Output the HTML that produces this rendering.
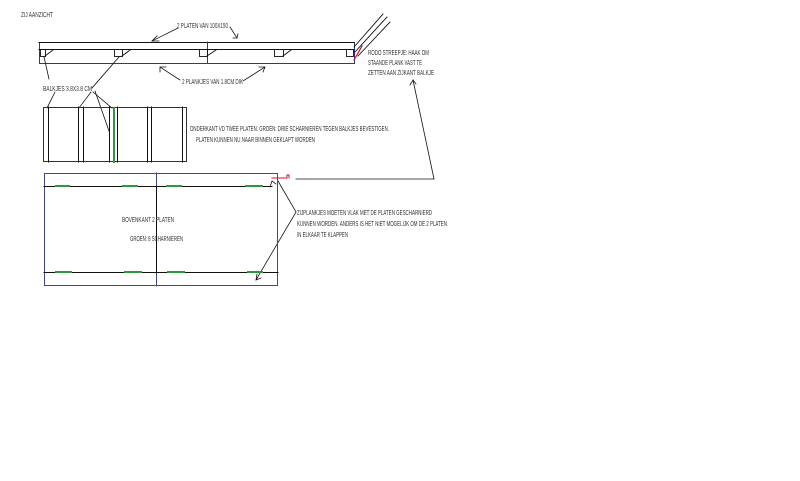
<!DOCTYPE html>
<html><head><meta charset="utf-8"><style>
html,body{margin:0;padding:0;background:#fff;width:800px;height:481px;overflow:hidden}
svg text{font-family:"Liberation Sans",sans-serif;font-size:7px;fill:#333}
</style></head><body>
<svg width="800" height="481" viewBox="0 0 800 481" xmlns="http://www.w3.org/2000/svg">
<g fill="none" stroke-linecap="square">
<rect x="39.5" y="42.5" width="315" height="21" stroke="#2a3a8a" stroke-width="1"/>
<line x1="39" y1="42.5" x2="354" y2="42.5" stroke="#111" stroke-width="1"/>
<line x1="39" y1="49.5" x2="354" y2="49.5" stroke="#111" stroke-width="1"/>
<line x1="207.5" y1="42" x2="207.5" y2="63" stroke="#2a3a8a"/>
<g stroke="#111" stroke-width="0.9">
<rect x="40.5" y="49.5" width="5" height="7"/><line x1="45" y1="56" x2="53" y2="50"/>
<rect x="114.5" y="49.5" width="8" height="7"/><line x1="122" y1="56" x2="130" y2="50"/>
<rect x="199.5" y="49.5" width="8" height="7"/><line x1="207" y1="56" x2="216" y2="50"/>
<rect x="274.5" y="49.5" width="9" height="7"/><line x1="283" y1="56" x2="291" y2="50"/>
<rect x="346.5" y="49.5" width="7" height="7"/>
<line x1="354" y1="47" x2="383" y2="14"/><line x1="354" y1="53" x2="387" y2="17"/><line x1="358" y1="56" x2="390" y2="22"/>
</g>
<line x1="354" y1="60" x2="362" y2="46" stroke="#d01020" stroke-width="1.2"/>
<g stroke="#111" stroke-width="0.8">
<line x1="178" y1="28" x2="152" y2="41"/><polyline points="157,36 152,41 159,41"/>
<line x1="230" y1="27" x2="237" y2="38"/><polyline points="233,38 237,38 238,34"/>
<line x1="180" y1="80" x2="160" y2="67"/><polyline points="160,72 160,67 166,67"/>
<line x1="243" y1="81" x2="265" y2="67"/><polyline points="259,67 265,67 263,72"/>
<line x1="44" y1="57" x2="49" y2="79"/>
<line x1="119" y1="57" x2="92" y2="88"/>
<line x1="55" y1="92" x2="47" y2="108"/>
<line x1="91" y1="92" x2="79" y2="108"/>
<line x1="93" y1="92" x2="112" y2="108"/>
<line x1="95" y1="91" x2="109" y2="131"/>
<line x1="434" y1="179" x2="413" y2="80"/><polyline points="410,85 413,80 416,84"/>
<line x1="434" y1="179" x2="296" y2="179"/>
<line x1="278" y1="181" x2="296" y2="212"/><line x1="296" y1="212" x2="256" y2="280"/>
<polyline points="257,274 256,280 261,278"/><polyline points="270,187 272,181 276,184"/>
</g>
<rect x="43.5" y="107.5" width="143" height="54" stroke="#333"/>
<g stroke="#111" stroke-width="1">
<line x1="48.5" y1="107" x2="48.5" y2="162"/><line x1="78.5" y1="107" x2="78.5" y2="162"/>
<line x1="83.5" y1="107" x2="83.5" y2="162"/><line x1="109.5" y1="107" x2="109.5" y2="162"/>
<line x1="117.5" y1="107" x2="117.5" y2="162"/><line x1="147.5" y1="107" x2="147.5" y2="162"/>
<line x1="151.5" y1="107" x2="151.5" y2="162"/><line x1="182.5" y1="107" x2="182.5" y2="162"/>
</g>
<line x1="114" y1="108" x2="114" y2="162" stroke="#2a9a3a" stroke-width="2" stroke-dasharray="5,2"/>
<rect x="44.5" y="173.5" width="233" height="112" stroke="#3a4a8a"/>
<line x1="156.5" y1="173" x2="156.5" y2="286" stroke="#3a4a8a"/>
<line x1="156.5" y1="186" x2="156.5" y2="273" stroke="#111"/>
<line x1="44" y1="186.5" x2="272" y2="186.5" stroke="#111"/>
<line x1="44" y1="272.5" x2="278" y2="272.5" stroke="#111"/>
<g stroke="#2a9a3a" stroke-width="2">
<line x1="56" y1="186" x2="69" y2="186"/><line x1="123" y1="186" x2="137" y2="186"/>
<line x1="167" y1="186" x2="181" y2="186"/><line x1="246" y1="186" x2="262" y2="186"/>
<line x1="56" y1="272" x2="71" y2="272"/><line x1="125" y1="272" x2="141" y2="272"/>
<line x1="168" y1="272" x2="184" y2="272"/><line x1="248" y1="272" x2="262" y2="272"/>
</g>
<polyline points="272,178 287,178 287,175 289,175 289,178" stroke="#d01020" stroke-width="1"/>
</g>
<g>
<text x="21" y="17" textLength="32" lengthAdjust="spacingAndGlyphs">ZIJ AANZICHT</text>
<text x="177" y="28" textLength="51" lengthAdjust="spacingAndGlyphs">2 PLATEN VAN 100X150</text>
<text x="182" y="84" textLength="61" lengthAdjust="spacingAndGlyphs">2 PLANKJES VAN 1.8CM DIK</text>
<text x="43" y="91" textLength="49" lengthAdjust="spacingAndGlyphs">BALKJES 3.8X3.8 CM</text>
<text x="368" y="55" textLength="61" lengthAdjust="spacingAndGlyphs">RODO STREEPJE: HAAK OM</text>
<text x="368" y="65" textLength="54" lengthAdjust="spacingAndGlyphs">STAANDE PLANK VAST TE</text>
<text x="368" y="75" textLength="66" lengthAdjust="spacingAndGlyphs">ZETTEN AAN ZIJKANT BALKJE</text>
<text x="190" y="131" textLength="199" lengthAdjust="spacingAndGlyphs">ONDERKANT VD TWEE PLATEN. GROEN: DRIE SCHARNIEREN TEGEN BALKJES BEVESTIGEN.</text>
<text x="196" y="142" textLength="119" lengthAdjust="spacingAndGlyphs">PLATEN KUNNEN NU NAAR BINNEN GEKLAPT WORDEN</text>
<text x="122" y="222" textLength="52" lengthAdjust="spacingAndGlyphs">BOVENKANT 2 PLATEN</text>
<text x="130" y="241" textLength="53" lengthAdjust="spacingAndGlyphs">GROEN: 8 SCHARNIEREN</text>
<text x="297" y="215" textLength="135" lengthAdjust="spacingAndGlyphs">ZIJPLANKJES MOETEN VLAK MET DE PLATEN GESCHARNIERD</text>
<text x="297" y="226" textLength="150" lengthAdjust="spacingAndGlyphs">KUNNEN WORDEN. ANDERS IS HET NIET MOGELIJK OM DE 2 PLATEN</text>
<text x="297" y="237" textLength="51" lengthAdjust="spacingAndGlyphs">IN ELKAAR TE KLAPPEN</text>
</g>
</svg>
</body></html>
